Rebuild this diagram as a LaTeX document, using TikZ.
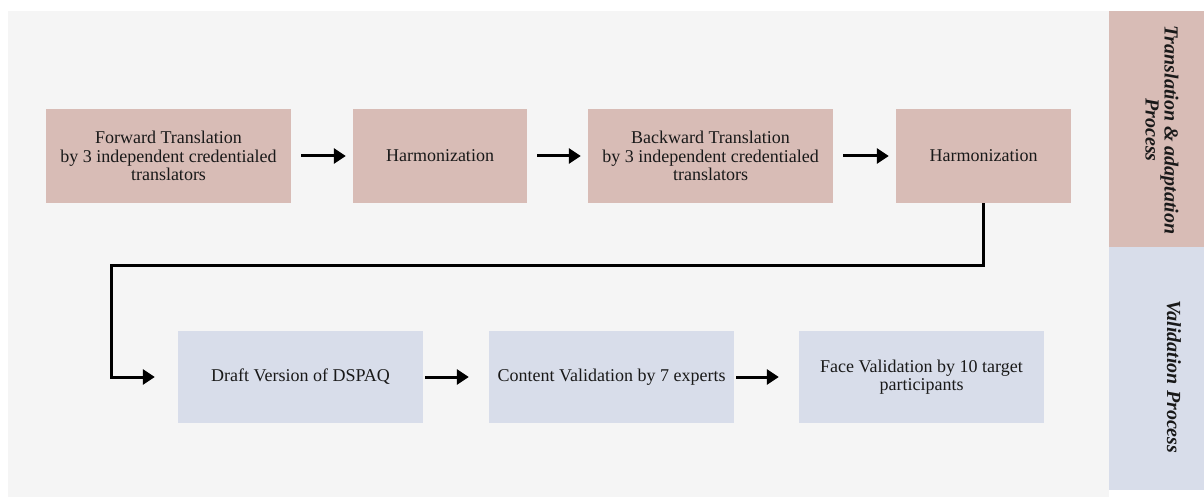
\documentclass[tikz,border=0pt]{standalone}
\usepackage{fontspec}
\setmainfont{Liberation Serif}
\usepackage{xcolor}
\usetikzlibrary{arrows.meta}
\definecolor{transpink}{HTML}{D8BCB6}
\definecolor{validblue}{HTML}{D8DDEA}
\definecolor{panelgray}{HTML}{F5F5F5}

\begin{document}
\begin{tikzpicture}[x=1pt,y=-1pt]
                \useasboundingbox[fill=white] (0,0) rectangle (1204,497);
                \fill[panelgray] (8,11) rectangle (1109,497);
                \fill[transpink] (1109,11) rectangle (1204,247);
                \fill[validblue] (1109,247) rectangle (1204,490);

                \begin{scope}[every node/.style = {rotate=-90, align=center, text=black!90,
                                font=\fontsize{20}{19}\selectfont\bfseries\itshape}]
                    \node (TAP) at (1162,130)   {Translation \& adaptation\\Process};
                    \node (VP)  at (1174,377)   {Validation Process};
                \end{scope}

                \begin{scope}[every node/.style = {fill=transpink, minimum height=94pt, inner sep=0pt,
                                align=center, text=black!90, font=\fontsize{18}{18.5}\selectfont}]
                    \node[minimum width=245pt] (FT) at (168.5,156)  {Forward Translation\\by 3 independent credentialed\\translators};
                    \node[minimum width=174pt] (H1) at (440,156)    {Harmonization};
                    \node[minimum width=245pt] (BT) at (710.5,156)  {Backward Translation\\by 3 independent credentialed\\translators};
                    \node[minimum width=175pt] (H2) at (983.5,156)  {Harmonization};
                \end{scope}

                \begin{scope}[every node/.style = {fill=validblue, minimum height=92pt, minimum width=245pt,
                                inner sep=0pt, align=center, text=black!90, font=\fontsize{18}{18.5}\selectfont}]
                    \node (DV) at (300.5,377)   {Draft Version of DSPAQ};
                    \node (CV) at (611.5,377)   {Content Validation by 7 experts};
                    \node (FV) at (921.5,377)   {Face Validation by 10 target\\participants};
                \end{scope}

                \coordinate (bend) at (111,265);

                \begin{scope}[>={Triangle[length=12pt,width=15pt]},
                                every edge/.style={draw=black, line width=3pt, shorten <=10pt, shorten >=7pt}]
                     \path [->] (FT) edge (H1);
                     \path [->] (H1) edge (BT);
                     \path [->] (BT) edge (H2);
                \end{scope}

                \begin{scope}[>={Triangle[length=12pt,width=15pt]},
                                every edge/.style={draw=black, line width=3pt, shorten <=2pt, shorten >=20pt}]
                     \path [->] (DV) edge (CV);
                     \path [->] (CV) edge (FV);
                \end{scope}

                \draw [-{Triangle[length=12pt,width=15pt]}, line width=3pt, shorten >=23pt]
                    (H2.south) |- (bend) |- (DV);
            \end{tikzpicture}
\end{document}
